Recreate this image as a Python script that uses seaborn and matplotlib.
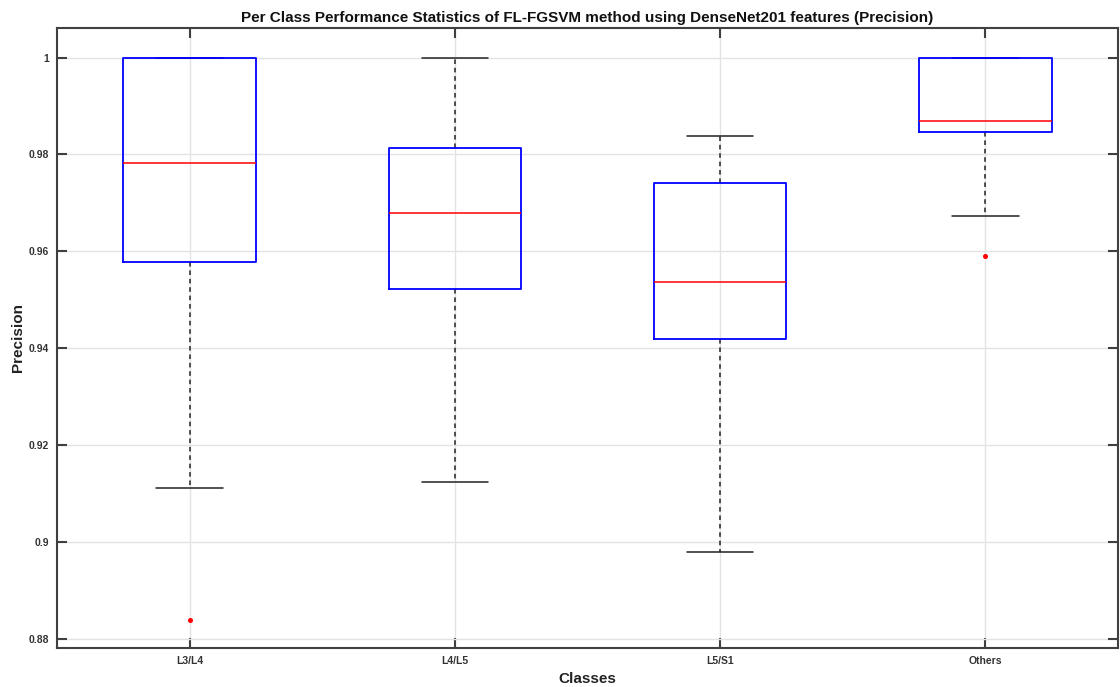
import matplotlib
matplotlib.use("Agg")
import matplotlib.pyplot as plt
import seaborn as sns
import pandas as pd
import numpy as np

classes = ["L3/L4", "L4/L5", "L5/S1", "Others"]
l3l4 = [0.8838, 0.9112, 0.9578, 0.9680, 0.9782, 0.9900, 1.0000, 1.0000, 1.0000]
l4l5 = [0.9123, 0.9400, 0.9522, 0.9600, 0.9680, 0.9750, 0.9813, 0.9900, 1.0000]
l5s1 = [0.8980, 0.9300, 0.9418, 0.9480, 0.9537, 0.9650, 0.9741, 0.9800, 0.9839]
others = [0.9590, 0.9672, 0.9846, 0.9850, 0.9868, 0.9950, 1.0000, 1.0000, 1.0000]
yticks = [0.88, 0.90, 0.92, 0.94, 0.96, 0.98, 1.00]
ytick_labels = ["0.88", "0.9", "0.92", "0.94", "0.96", "0.98", "1"]

df = pd.DataFrame({
    "Classes": np.repeat(classes, [len(l3l4), len(l4l5), len(l5s1), len(others)]),
    "Precision": l3l4 + l4l5 + l5s1 + others,
})

sns.set_style("white")
plt.rcParams["font.family"] = ["Liberation Sans", "DejaVu Sans"]

fig = plt.figure(figsize=(11.2, 6.87), dpi=100)
ax = fig.add_axes([57 / 1120, 1 - 648 / 687, (1118 - 57) / 1120, (648 - 28) / 687])

axcol = "#404040"
sns.boxplot(
    data=df, x="Classes", y="Precision", order=classes, ax=ax,
    width=0.5, fill=False, whis=1.5,
    boxprops=dict(color="#0000ff", linewidth=1.3),
    medianprops=dict(color="#ff0000", linewidth=1.1),
    whiskerprops=dict(color="#222222", linewidth=1.1, linestyle=(0, (3, 2.5))),
    capprops=dict(color="#222222", linewidth=1.1),
    flierprops=dict(marker="o", markersize=2.6, markerfacecolor="#ff0000",
                    markeredgecolor="#ff0000"),
)

# draw blue boxes above the caps (MATLAB style where cap coincides with box edge)
for ln in ax.lines:
    c = matplotlib.colors.to_hex(ln.get_color())
    if c == "#0000ff":
        ln.set_zorder(5)
    elif c == "#ff0000":
        ln.set_zorder(6)
    else:
        ln.set_zorder(3)

ax.set_xlim(-0.5, 3.5)
ax.set_ylim(0.8781, 1.0061)
ax.set_yticks(yticks)
ax.set_yticklabels(ytick_labels)
ax.grid(True, color="#e3e3e3", linewidth=1.0)
ax.set_axisbelow(True)
ax.tick_params(axis="both", direction="in", length=7, width=1.5, color=axcol,
               labelsize=7.5, labelcolor="#333333", top=True, right=True,
               bottom=True, left=True, pad=6)
for lab in ax.get_xticklabels() + ax.get_yticklabels():
    lab.set_fontweight("bold")
for sp in ax.spines.values():
    sp.set_visible(True)
    sp.set_color(axcol)
    sp.set_linewidth(1.5)
    sp.set_zorder(7)

ax.set_title("Per Class Performance Statistics of FL-FGSVM method using DenseNet201 features (Precision)",
             fontsize=11, fontweight="bold", color="#111111", pad=4)
ax.set_xlabel("Classes", fontsize=11, fontweight="bold", color="#222222", labelpad=4)
ax.set_ylabel("Precision", fontsize=11, fontweight="bold", color="#222222", labelpad=2)

fig.savefig("out.png", dpi=100)
